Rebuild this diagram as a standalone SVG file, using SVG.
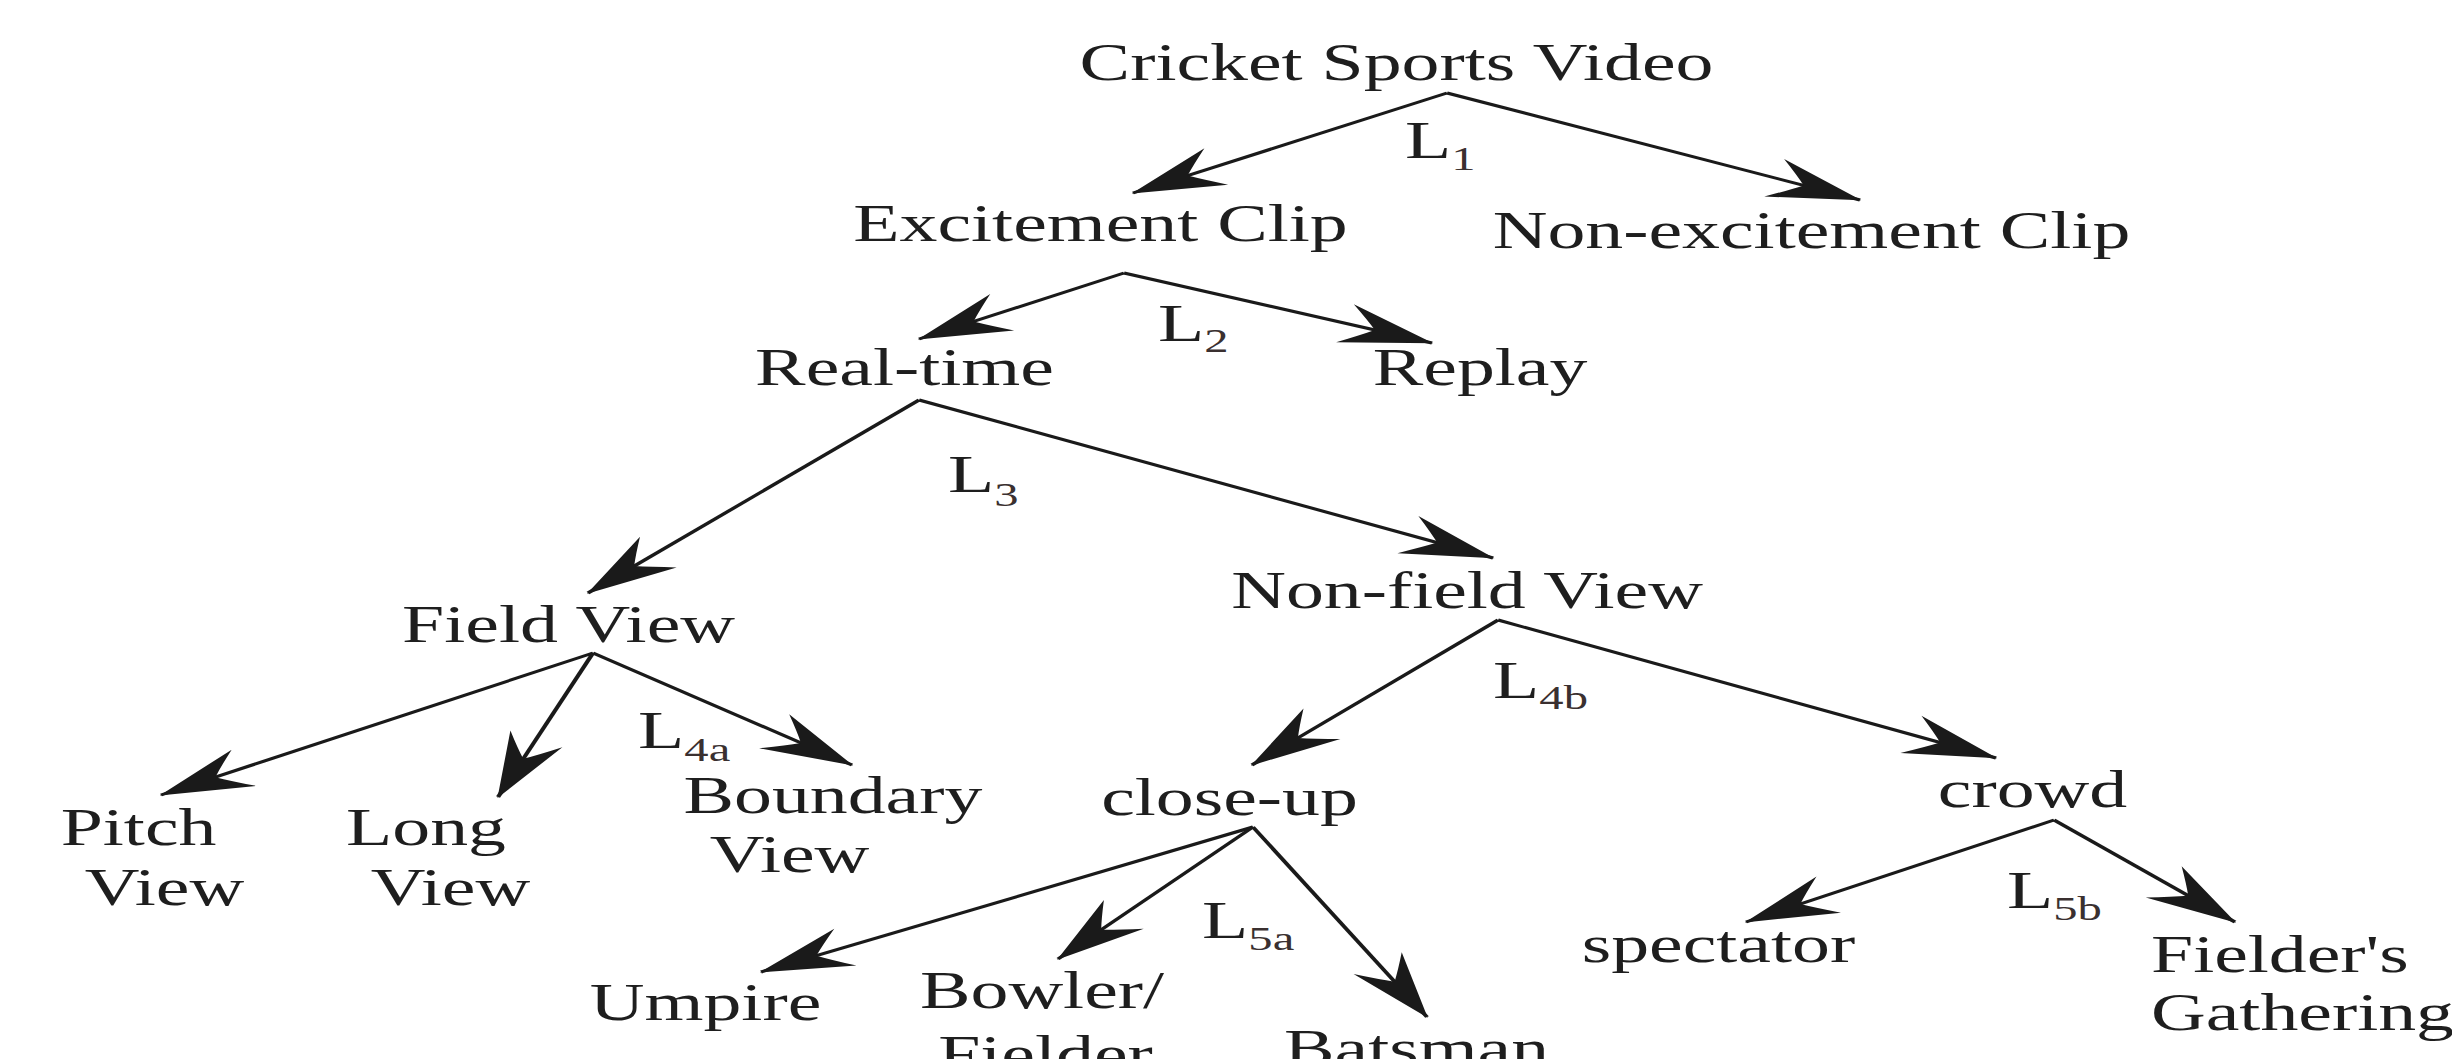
<svg xmlns="http://www.w3.org/2000/svg" width="2452" height="1059" viewBox="0 0 2452 1059">
<style>
.t{font-family:"Liberation Serif","Times New Roman",serif;font-size:53px;fill:#1e1e1e;text-anchor:middle}
.s{text-anchor:start}
.lab{font-family:"Liberation Serif","Times New Roman",serif;font-size:53px;fill:#1e1e1e}
.sub{font-size:34px;fill:#3a3030}
.c{stroke:#1a1a1a;stroke-width:3;fill:none;marker-end:url(#ah)}
</style>
<defs>
<marker id="ah" viewBox="-68 -24 72 48" refX="0" refY="0" markerWidth="72" markerHeight="48" markerUnits="userSpaceOnUse" orient="auto">
<path d="M1,0 L-64,-20 Q-50,-8 -42,0 Q-50,8 -64,20 Z" fill="#1a1a1a"/>
</marker>
</defs>
<rect width="2452" height="1059" fill="#ffffff"/>
<g transform="scale(1.43 1)">
<g id="connectors">
<path class="c" d="M1011.9,93 L792.3,193"/>
<path class="c" d="M1011.9,93 L1300.7,200"/>
<path class="c" d="M786,273 L642.7,339"/>
<path class="c" d="M786,273 L1001.4,343"/>
<path class="c" d="M642.7,400 L411.2,593"/>
<path class="c" d="M642.7,400 L1044.1,558"/>
<path class="c" d="M414.7,653 L112.6,795"/>
<path class="c" d="M414.7,653 L348.3,797"/>
<path class="c" d="M414.7,653 L595.8,765"/>
<path class="c" d="M1047.6,620 L875.5,765"/>
<path class="c" d="M1047.6,620 L1395.8,758"/>
<path class="c" d="M876.2,827 L532.2,972"/>
<path class="c" d="M876.2,827 L739.9,959"/>
<path class="c" d="M876.2,827 L997.9,1017"/>
<path class="c" d="M1436.4,820 L1221,922"/>
<path class="c" d="M1436.4,820 L1562.9,922"/>
</g>
<g id="labels">
<text class="lab" x="982.5" y="158">L<tspan class="sub" dy="12">1</tspan></text>
<text class="lab" x="809.8" y="341">L<tspan class="sub" dy="11">2</tspan></text>
<text class="lab" x="662.9" y="492">L<tspan class="sub" dy="14">3</tspan></text>
<text class="lab" x="446.2" y="748">L<tspan class="sub" dy="13">4a</tspan></text>
<text class="lab" x="1044.1" y="698">L<tspan class="sub" dy="11">4b</tspan></text>
<text class="lab" x="840.6" y="938">L<tspan class="sub" dy="12">5a</tspan></text>
<text class="lab" x="1403.5" y="908">L<tspan class="sub" dy="12">5b</tspan></text>
</g>
<g id="n-cricket"><text class="t" x="976.6" y="80">Cricket Sports Video</text></g>
<g id="n-excitement"><text class="t" x="769.6" y="241">Excitement Clip</text></g>
<g id="n-nonexcitement"><text class="t" x="1266.8" y="248">Non-excitement Clip</text></g>
<g id="n-realtime"><text class="t" x="632.5" y="385">Real-time</text></g>
<g id="n-replay"><text class="t" x="1035" y="385">Replay</text></g>
<g id="n-field"><text class="t" x="397.6" y="642">Field View</text></g>
<g id="n-nonfield"><text class="t" x="1025.9" y="608">Non-field View</text></g>
<g id="n-pitch"><text class="t" x="96.9" y="845">Pitch</text><text class="t" x="115" y="905">View</text></g>
<g id="n-long"><text class="t" x="297.9" y="845">Long</text><text class="t" x="315" y="905">View</text></g>
<g id="n-boundary"><text class="t" x="582.5" y="813">Boundary</text><text class="t" x="552.1" y="872">View</text></g>
<g id="n-closeup"><text class="t" x="859.8" y="815">close-up</text></g>
<g id="n-crowd"><text class="t" x="1421.3" y="807">crowd</text></g>
<g id="n-umpire"><text class="t" x="493.4" y="1020">Umpire</text></g>
<g id="n-bowler"><text class="t" x="728.7" y="1008">Bowler/</text><text class="t" x="731.1" y="1072">Fielder</text></g>
<g id="n-batsman"><text class="t" x="990.6" y="1066">Batsman</text></g>
<g id="n-spectator"><text class="t" x="1201.7" y="962">spectator</text></g>
<g id="n-fgathering"><text class="t s" x="1504.2" y="972">Fielder's</text><text class="t s" x="1504.2" y="1030">Gathering</text></g>
</g>
</svg>
